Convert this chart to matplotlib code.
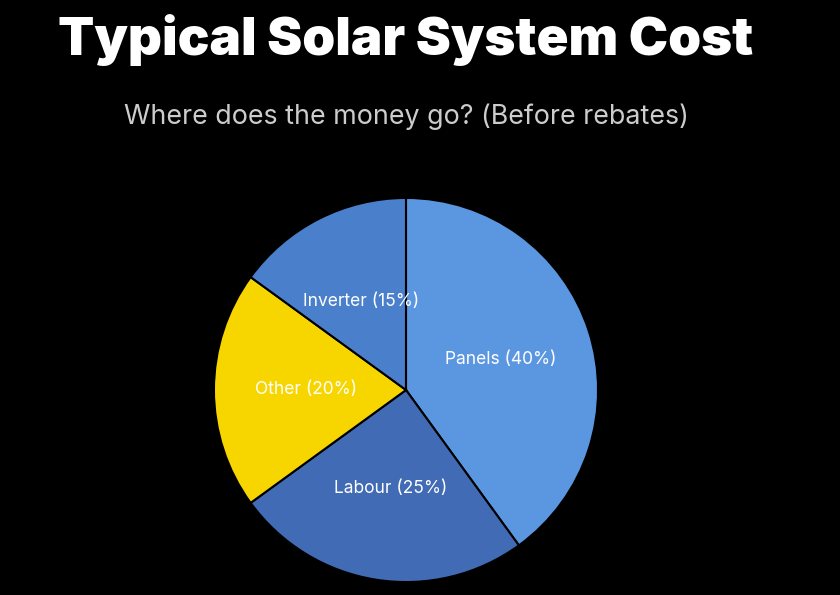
import matplotlib
matplotlib.use("Agg")
import matplotlib.pyplot as plt

categories = ["Panels", "Labour", "Other", "Inverter"]
values = [40, 25, 20, 15]
colors = ["#5B97E1", "#416BB4", "#F7D600", "#4A7FCB"]

fig = plt.figure(figsize=(8.4, 5.95), dpi=100, facecolor="black")
fig.text(406/840, 1-40/595, "Typical Solar System Cost", ha="center", va="center",
         fontsize=38, fontweight=900, family="Inter", color="white")
fig.text(406/840, 1-117/595, "Where does the money go? (Before rebates)", ha="center",
         va="center", fontsize=19.3, family="Inter", color="#cccccc")
ax = fig.add_axes([213/840, 12/595, 386/840, 386/595])
ax.set_facecolor("black")
labels = [f"{c} ({v}%)" for c, v in zip(categories, values)]
wedges, texts = ax.pie(values, labels=labels, colors=colors, startangle=90, counterclock=False,
                       labeldistance=0.52, wedgeprops=dict(edgecolor="black", linewidth=1.5),
                       textprops=dict(color="white", fontsize=12.5, family="Inter", ha="center", va="center"))
ax.set_xlim(-1.005, 1.005)
ax.set_ylim(-1.005, 1.005)
ax.set_aspect("equal")
fig.savefig("out.png", dpi=100, facecolor="black")
